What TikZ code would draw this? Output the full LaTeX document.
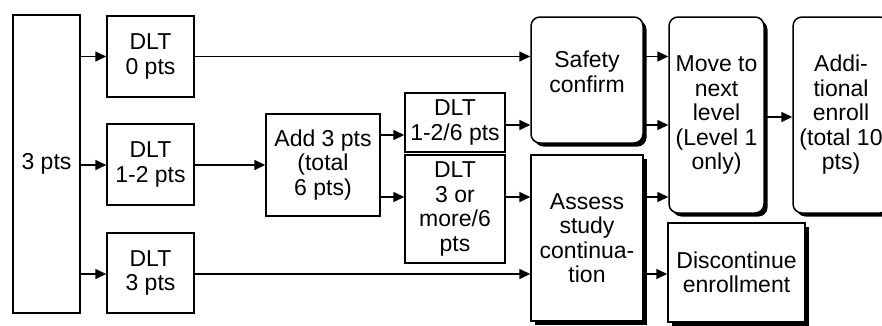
\documentclass[tikz,border=0pt]{standalone}
\usepackage{fontspec}
\setmainfont{Liberation Sans}
\usetikzlibrary{arrows.meta,shadows}
\begin{document}
\begin{tikzpicture}[x=1pt,y=-1pt,
  wh/.style 2 args={minimum width=#1pt, minimum height=#2pt},
  box/.style={draw=black, line width=1.5pt, fill=white, inner sep=0pt, align=center, font=\fontsize{23}{24.5}\selectfont},
  sbox/.style={box, drop shadow={shadow xshift=3.5pt, shadow yshift=-3.5pt, fill=black, opacity=1}},
  rbox/.style={sbox, rounded corners=9pt},
  txt/.style={inner sep=0pt, align=center, font=\fontsize{23}{24.5}\selectfont},
  arr/.style={line width=1.6pt, -{Triangle[length=11pt,width=10pt]}}]
\useasboundingbox (0,0) rectangle (882,325);
\clip (0,0) rectangle (882,325);

% levels of connectors
\coordinate (yA) at (0,56.5);
\coordinate (yB) at (0,117);
\coordinate (yC) at (0,125);
\coordinate (yD) at (0,135);
\coordinate (yE) at (0,165);
\coordinate (yF) at (0,197);
\coordinate (yG) at (0,274);

% boxes
\node[box, wh={67}{298}] (p3) at (46.5,164) {3 pts};
\node[box, wh={87}{81}] (d0) at (150.5,56.5) {DLT\\0 pts};
\node[box, wh={87}{81}] (d12) at (150.5,164.5) {DLT\\1-2 pts};
\node[box, wh={87}{80}] (d3) at (150.5,273) {DLT\\3 pts};
\node[box, wh={114}{102}] (add) at (323,165) {Add 3 pts\\(total\\6 pts)};
\node[box, wh={100}{59}] (d126) at (455,122.5) {DLT\\1-2/6 pts};
\node[box, wh={100}{108}] (d3m) at (455,209) {DLT\\3 or\\more/6\\pts};
\node[rbox, wh={112}{126}] (safety) at (587,80) {};
\node[txt] (safetytxt) at (587,72) {Safety\\confirm};
\node[sbox, wh={112}{166}] (assess) at (587,238) {Assess\\study\\continua-\\tion};
\node[rbox, wh={95}{196}] (move) at (716.5,115) {Move to\\next\\level\\(Level 1\\only)};
\node[rbox, wh={96}{196}] (addl) at (841,115) {Addi-\\tional\\enroll\\(total 10\\pts)};
\node[sbox, wh={137}{99}] (disc) at (736.5,272.5) {Discontinue\\enrollment};

% connectors
\draw[arr] (p3.east |- yA) -- (d0.west |- yA);
\draw[arr] (p3.east |- yE) -- (d12.west |- yE);
\draw[arr] (p3.east |- yG) -- (d3.west |- yG);
\draw[arr] (d0.east |- yA) -- (safety.west |- yA);
\draw[arr] (d12.east |- yE) -- (add.west |- yE);
\draw[arr] (add.east |- yD) -- (d126.west |- yD);
\draw[arr] (add.east |- yF) -- (d3m.west |- yF);
\draw[arr] (d126.east |- yC) -- (safety.west |- yC);
\draw[arr] (d3m.east |- yF) -- (assess.west |- yF);
\draw[arr] (d3.east |- yG) -- (assess.west |- yG);
\draw[arr] (safety.east |- yA) -- (move.west |- yA);
\draw[arr] (safety.east |- yC) -- (move.west |- yC);
\draw[arr] (assess.east |- yF) -- (move.west |- yF);
\draw[arr] (assess.east |- yG) -- (disc.west |- yG);
\draw[arr] (move.east |- yB) -- (addl.west |- yB);
\end{tikzpicture}
\end{document}
